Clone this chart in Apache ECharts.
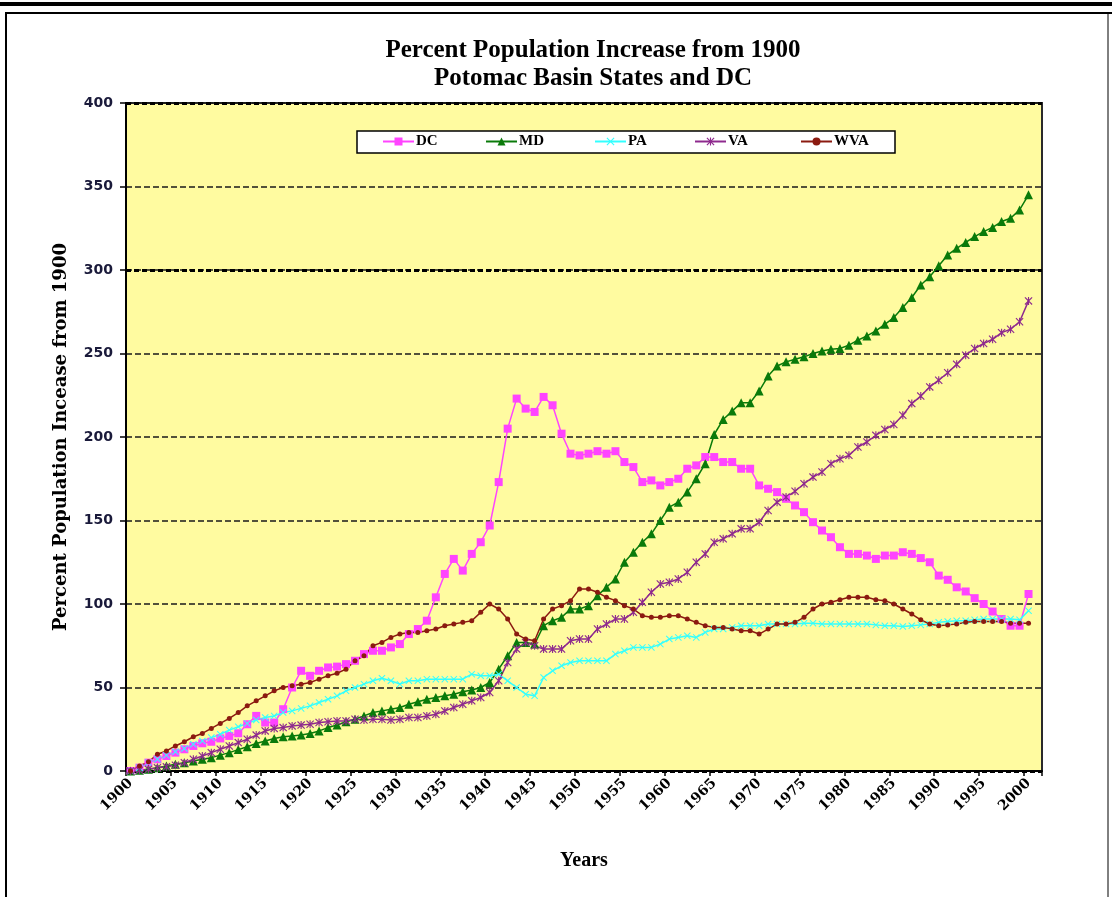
<!DOCTYPE html>
<html>
<head>
<meta charset="utf-8">
<script src="https://cdn.jsdelivr.net/npm/echarts@6/dist/echarts.min.js"></script>
<style>
html,body{margin:0;padding:0;background:#fff;}
#chart{width:1112px;height:897px;}
</style>
</head>
<body>
<div id="chart"></div>
<script>
// ---- Data ----
var years = ['1900','1901','1902','1903','1904','1905','1906','1907','1908','1909',
  '1910','1911','1912','1913','1914','1915','1916','1917','1918','1919',
  '1920','1921','1922','1923','1924','1925','1926','1927','1928','1929',
  '1930','1931','1932','1933','1934','1935','1936','1937','1938','1939',
  '1940','1941','1942','1943','1944','1945','1946','1947','1948','1949',
  '1950','1951','1952','1953','1954','1955','1956','1957','1958','1959',
  '1960','1961','1962','1963','1964','1965','1966','1967','1968','1969',
  '1970','1971','1972','1973','1974','1975','1976','1977','1978','1979',
  '1980','1981','1982','1983','1984','1985','1986','1987','1988','1989',
  '1990','1991','1992','1993','1994','1995','1996','1997','1998','1999',
  '2000','2001'];

var dcValues = [0, 2, 5, 7, 9, 11, 13, 15, 16.6, 17.5,
  19.5, 21, 22.6, 28, 33, 29, 29, 37, 50, 60,
  57, 60, 62, 62.5, 64, 66, 70, 72, 72, 74,
  76, 82, 85, 90, 104, 118, 127, 120, 130, 137,
  147, 173, 205, 223, 217, 215, 224, 219, 202, 190,
  189, 190, 191.5, 190, 191.5, 185, 182, 173, 174, 171,
  173, 175, 181, 183, 188, 188, 185, 185, 181, 181,
  171, 169, 167, 163, 159, 155, 149, 144, 140, 134,
  130, 130, 129, 127, 129, 129, 131, 130, 127.5, 125,
  117, 114.5, 110, 107.5, 103.5, 100, 95.5, 91, 87, 87,
  106, null];

var mdValues = [0, 0.5, 1, 2, 3, 4, 5, 6, 7, 8,
  9.5, 11, 12.8, 14.5, 16.5, 18, 19.5, 20.5, 21, 21.5,
  22.5, 24, 26, 27.5, 29.5, 31, 33, 35, 36, 37,
  38, 40, 41.5, 43, 44, 45, 46, 47.5, 48.5, 50,
  53, 61, 69, 77, 77, 76, 87, 90, 92, 97,
  97, 99, 105, 110, 115, 125, 131, 137, 142, 150,
  158, 161, 167, 175, 184, 201.5, 210.5, 215.5, 220.5, 220.5,
  227.5, 236.5, 242.5, 245, 246.5, 248, 250, 251.5, 252.5, 253,
  255, 258, 260.5, 263.5, 267.5, 271.5, 277.5, 283.5, 291, 296,
  302.5, 309, 313, 316.5, 320, 323, 325.5, 329, 331, 336,
  345, null];

var paValues = [0, 2, 5, 7, 9.5, 11.5, 13.5, 16, 18, 20,
  22, 24.5, 26.5, 28.5, 30.5, 32, 33, 35, 36, 37.5,
  39, 41, 43, 45, 48, 50, 52, 54, 55.5, 54,
  52, 54, 54, 55, 55, 55, 55, 55, 58, 57,
  57, 58, 54, 50, 46, 45, 56, 60, 63, 65,
  66, 66, 66, 66, 70, 72, 74, 74, 74, 76,
  79, 80, 81, 80, 83, 85, 85, 86, 87, 87,
  87, 88, 88, 88, 88, 88.5, 88.5, 88, 88, 88,
  88, 88, 88, 87.5, 87, 87, 86.5, 87, 87.5, 88,
  89, 89.5, 90, 90, 90.5, 91, 91, 91, 91, 90.5,
  96, null];

var vaValues = [0, 0.5, 1, 2, 2.5, 3.5, 5, 7, 9, 11,
  13, 15, 17, 19, 21.5, 24, 25.5, 26, 27, 27.5,
  28, 29, 29.5, 30, 30, 31, 30.5, 31, 31, 30.5,
  31, 32, 32, 33, 34, 36, 38, 40, 42, 44,
  47, 54, 65, 73, 77, 75, 73, 73, 73, 78,
  79, 79, 85, 88, 91, 91, 95, 101, 107, 112,
  113, 115, 119, 125, 130, 137, 139, 142, 145, 145,
  149, 156, 161, 164, 167.5, 172, 176, 179, 184, 187,
  189, 194, 197, 201, 204.5, 207.5, 213, 220, 224.5, 230,
  234, 238.5, 243.5, 249, 253, 256, 258.5, 262.5, 264.5, 269,
  281.5, null];

var wvaValues = [0, 3, 5.5, 10, 12, 15, 17.5, 20.5, 22.5, 25.5,
  28.5, 31.5, 35, 39, 42, 45, 48, 50, 51, 52,
  53, 55, 57, 58.5, 61, 66, 69, 75, 77, 80,
  82, 83, 83, 84, 85, 87, 88, 89, 90, 95,
  100, 97, 91, 82, 79, 78, 91, 97, 99, 102,
  109, 109, 107, 104, 102, 99, 97, 93, 92, 92,
  93, 93, 91, 89, 87, 86, 86, 85, 84, 84,
  82, 85, 88, 88, 89, 92, 97, 100, 101, 102.5,
  104, 104, 104, 102.5, 102, 100, 97, 94, 90.5, 88,
  87, 87.5, 88, 89, 89.5, 89.5, 89.5, 89.5, 88.5, 88.5,
  88.5, null];

var seriesNames = ['DC', 'MD', 'PA', 'VA', 'WVA'];
var titleLines = ['Percent Population Increase from 1900', 'Potomac Basin States and DC'];
var yAxisTitle = 'Percent Population Incease from 1900';
var xAxisTitle = 'Years';

// ---- Styling ----
var serif = '"Liberation Serif", "Times New Roman", serif';
var wideSerif = '"DejaVu Serif", "Liberation Serif", serif';
var xShape = 'path://M1,0 L5,4 L9,0 L10,1 L6,5 L10,9 L9,10 L5,6 L1,10 L0,9 L4,5 L0,1 Z';
var starShape = 'path://M1,0 L5,4 L9,0 L10,1 L6,5 L10,9 L9,10 L5,6 L1,10 L0,9 L4,5 L0,1 Z M4.3,0 L5.7,0 L5.7,10 L4.3,10 Z';
var legendLefts = [382, 485, 594, 694, 800];

function mkSeries(name, data, color, symbol, size) {
  return {
    name: name, type: 'line', data: data,
    symbol: symbol, symbolSize: size, showSymbol: true, showAllSymbol: true,
    lineStyle: { color: color, width: 1.5 },
    itemStyle: { color: color, borderWidth: 0 },
    connectNulls: false, animation: false
  };
}

var legends = seriesNames.map(function (n, i) {
  return {
    data: [n], left: legendLefts[i], top: 134, padding: 0,
    itemGap: 0, itemWidth: 31, itemHeight: 10, z: 6,
    textStyle: { fontFamily: serif, fontWeight: 'bold', fontSize: 15, color: '#000', padding: [0, 0, 0, -3] }
  };
});

var chart = echarts.init(document.getElementById('chart'), null, { renderer: 'canvas' });
chart.setOption({
  backgroundColor: '#ffffff',
  animation: false,
  title: {
    text: titleLines.join('\n'),
    left: 588, top: 32, textAlign: 'center',
    textStyle: { fontFamily: serif, fontWeight: 'bold', fontSize: 25, color: '#000', lineHeight: 28 }
  },
  graphic: [
    { type: 'rect', shape: { x: 0, y: 2, width: 1112, height: 4 }, style: { fill: '#000' }, silent: true },
    { type: 'line', shape: { x1: 5, y1: 13, x2: 1112, y2: 13 }, style: { stroke: '#000', lineWidth: 2 }, silent: true },
    { type: 'line', shape: { x1: 6, y1: 13, x2: 6, y2: 897 }, style: { stroke: '#000', lineWidth: 2 }, silent: true },
    { type: 'line', shape: { x1: 1108, y1: 13, x2: 1108, y2: 897 }, style: { stroke: '#000', lineWidth: 1 }, silent: true },
    { type: 'rect', shape: { x: 357, y: 131, width: 538, height: 22 }, style: { fill: '#fff', stroke: '#000', lineWidth: 1.5 }, z: 5, silent: true }
  ],
  legend: legends,
  grid: {
    left: 126, right: 70, top: 103, bottom: 126,
    show: true, backgroundColor: '#FFFBA0', borderColor: '#2a2a2a', borderWidth: 2
  },
  xAxis: {
    type: 'category', data: years, boundaryGap: true,
    name: xAxisTitle, nameLocation: 'middle', nameGap: 80,
    nameTextStyle: { fontFamily: serif, fontWeight: 'bold', fontSize: 20, color: '#000' },
    axisLine: { show: true, lineStyle: { color: '#000', width: 2 } },
    axisTick: { show: true, interval: 4, length: 5, lineStyle: { color: '#000', width: 1.5 } },
    axisLabel: { interval: 4, rotate: 45, margin: 10, fontFamily: wideSerif, fontWeight: 'bold', fontSize: 14, color: '#000' },
    splitLine: { show: false }
  },
  yAxis: [{
    type: 'value', min: 0, max: 400, interval: 50,
    name: yAxisTitle, nameLocation: 'middle', nameGap: 56, nameRotate: 90,
    nameTextStyle: { fontFamily: wideSerif, fontWeight: 'bold', fontSize: 18, color: '#000' },
    axisLine: { show: true, lineStyle: { color: '#000', width: 2 } },
    axisTick: { show: true, length: 6, lineStyle: { color: '#000', width: 1.5 } },
    axisLabel: { margin: 13, fontFamily: '"DejaVu Sans", Verdana, sans-serif', fontWeight: 'bold', fontSize: 14, color: '#1a1a3a' },
    splitLine: { show: true, lineStyle: { color: '#1a1a1a', width: 1.5, type: [6, 3] } }
  }, {
    type: 'value', min: 0, max: 400, interval: 300, position: 'left',
    axisLine: { show: false }, axisTick: { show: false }, axisLabel: { show: false },
    splitLine: { show: true, lineStyle: { color: '#000', width: 3, type: [5, 3] } }
  }],
  series: [
    mkSeries('DC', dcValues, '#FF44FF', 'rect', 8),
    mkSeries('MD', mdValues, '#0A7A0A', 'triangle', 9),
    mkSeries('PA', paValues, '#33FFFF', xShape, 7),
    mkSeries('VA', vaValues, '#8E2A8E', starShape, 8),
    mkSeries('WVA', wvaValues, '#8B1A10', 'circle', 5)
  ]
});
</script>
</body>
</html>
